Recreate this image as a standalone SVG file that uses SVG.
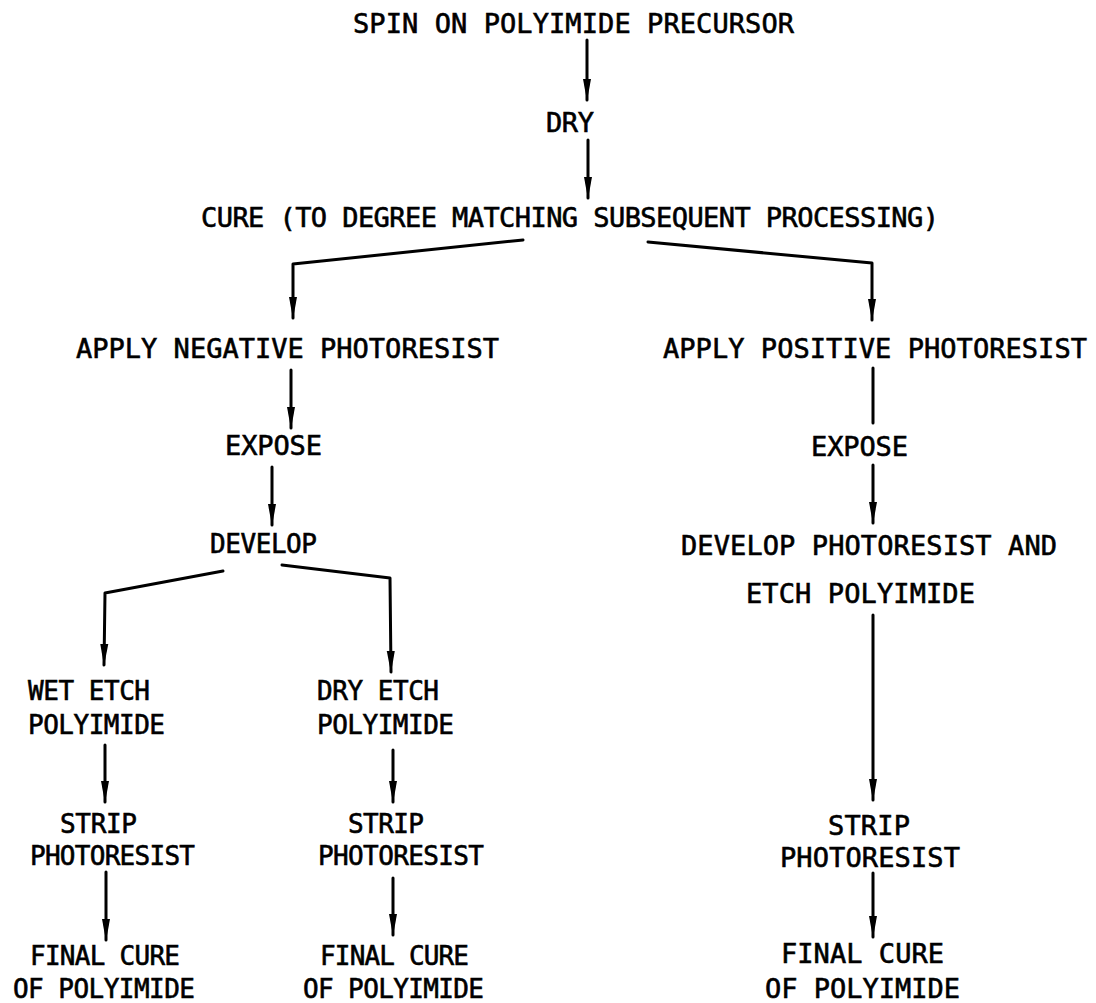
<svg xmlns="http://www.w3.org/2000/svg" width="1096" height="1003" viewBox="0 0 1096 1003">
<style>
text{font-family:"DejaVu Sans Mono","Liberation Mono",monospace;font-size:27px;fill:#000;stroke:#000;stroke-width:0.6;}
text.s{font-size:26px;}
.c{fill:none;stroke:#000;stroke-width:3;stroke-linejoin:round;stroke-linecap:round;}
</style>
<defs>
<marker id="ah" markerUnits="userSpaceOnUse" markerWidth="22" markerHeight="10" refX="21" refY="5" orient="auto">
<path d="M0,1 L22,5 L0,9 Z" fill="#000"/>
</marker>
</defs>
<rect width="1096" height="1003" fill="#fff"/>
<g id="connectors">
<path class="c" d="M587,40 L587,100" marker-end="url(#ah)"/>
<path class="c" d="M588,140 L588,198" marker-end="url(#ah)"/>
<path class="c" d="M523,240 L293,264 L293,318" marker-end="url(#ah)"/>
<path class="c" d="M648,242 L872,263 L872,320" marker-end="url(#ah)"/>
<path class="c" d="M291,370 L291,428" marker-end="url(#ah)"/>
<path class="c" d="M873,368 L873,423"/>
<path class="c" d="M272,467 L272,525" marker-end="url(#ah)"/>
<path class="c" d="M873,465 L873,523" marker-end="url(#ah)"/>
<path class="c" d="M223,571 L105,593 L104,665" marker-end="url(#ah)"/>
<path class="c" d="M282,565 L390,578 L391,672" marker-end="url(#ah)"/>
<path class="c" d="M873,615 L873,800" marker-end="url(#ah)"/>
<path class="c" d="M105,745 L105,802" marker-end="url(#ah)"/>
<path class="c" d="M106,872 L106,940" marker-end="url(#ah)"/>
<path class="c" d="M393,750 L393,802" marker-end="url(#ah)"/>
<path class="c" d="M393,878 L393,935" marker-end="url(#ah)"/>
<path class="c" d="M873,873 L873,937" marker-end="url(#ah)"/>
</g>
<g id="n-spin"><text x="353" y="33" textLength="441" lengthAdjust="spacing">SPIN ON POLYIMIDE PRECURSOR</text></g>
<g id="n-dry"><text x="546" y="132" textLength="48" lengthAdjust="spacing">DRY</text></g>
<g id="n-cure"><text x="201" y="227" textLength="738" lengthAdjust="spacing">CURE (TO DEGREE MATCHING SUBSEQUENT PROCESSING)</text></g>
<g id="n-apply-neg"><text x="76" y="358" textLength="423" lengthAdjust="spacing">APPLY NEGATIVE PHOTORESIST</text></g>
<g id="n-apply-pos"><text x="663" y="358" textLength="424" lengthAdjust="spacing">APPLY POSITIVE PHOTORESIST</text></g>
<g id="n-expose-l"><text x="225" y="455" textLength="97" lengthAdjust="spacing">EXPOSE</text></g>
<g id="n-expose-r"><text x="811" y="456" textLength="97" lengthAdjust="spacing">EXPOSE</text></g>
<g id="n-develop"><text class="s" x="210" y="553" textLength="107" lengthAdjust="spacing">DEVELOP</text></g>
<g id="n-develop-etch">
<text x="681" y="555" textLength="376" lengthAdjust="spacing">DEVELOP PHOTORESIST AND</text>
<text x="746" y="603" textLength="229" lengthAdjust="spacing">ETCH POLYIMIDE</text>
</g>
<g id="n-wet-etch">
<text class="s" x="28" y="700" textLength="122" lengthAdjust="spacing">WET ETCH</text>
<text class="s" x="28" y="734" textLength="137" lengthAdjust="spacing">POLYIMIDE</text>
</g>
<g id="n-dry-etch">
<text class="s" x="317" y="700" textLength="122" lengthAdjust="spacing">DRY ETCH</text>
<text class="s" x="317" y="734" textLength="137" lengthAdjust="spacing">POLYIMIDE</text>
</g>
<g id="n-strip-l">
<text class="s" x="60" y="833" textLength="77" lengthAdjust="spacing">STRIP</text>
<text class="s" x="30" y="865" textLength="165" lengthAdjust="spacing">PHOTORESIST</text>
</g>
<g id="n-final-l">
<text class="s" x="30" y="965" textLength="150" lengthAdjust="spacing">FINAL CURE</text>
<text class="s" x="13" y="998" textLength="182" lengthAdjust="spacing">OF POLYIMIDE</text>
</g>
<g id="n-strip-m">
<text class="s" x="348" y="833" textLength="76" lengthAdjust="spacing">STRIP</text>
<text class="s" x="318" y="865" textLength="166" lengthAdjust="spacing">PHOTORESIST</text>
</g>
<g id="n-final-m">
<text class="s" x="320" y="965" textLength="149" lengthAdjust="spacing">FINAL CURE</text>
<text class="s" x="303" y="998" textLength="181" lengthAdjust="spacing">OF POLYIMIDE</text>
</g>
<g id="n-strip-r">
<text x="828" y="835" textLength="82" lengthAdjust="spacing">STRIP</text>
<text x="780" y="867" textLength="180" lengthAdjust="spacing">PHOTORESIST</text>
</g>
<g id="n-final-r">
<text x="781" y="963" textLength="163" lengthAdjust="spacing">FINAL CURE</text>
<text x="765" y="998" textLength="195" lengthAdjust="spacing">OF POLYIMIDE</text>
</g>
</svg>
